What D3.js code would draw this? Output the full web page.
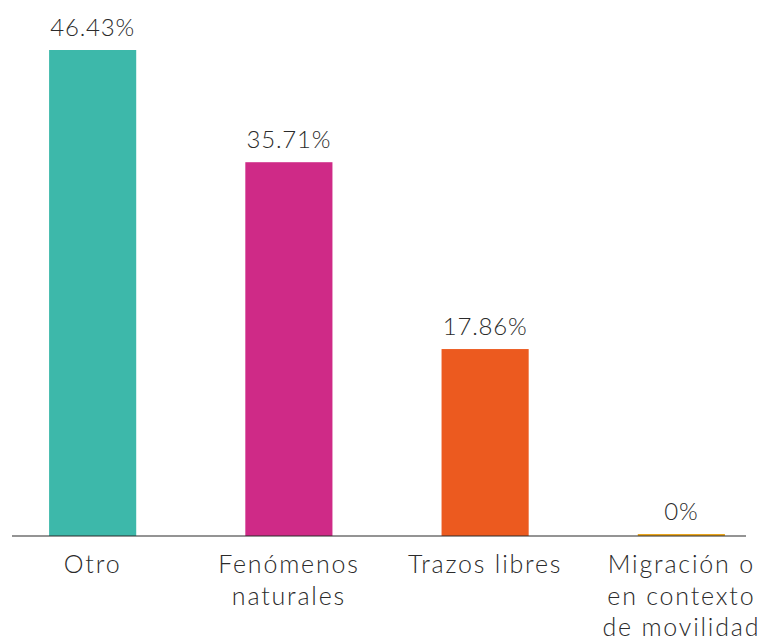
<!DOCTYPE html>
<html>
<head>
<meta charset="utf-8">
<script src="https://cdn.jsdelivr.net/npm/d3@7"></script>
<style>
  html, body { margin: 0; padding: 0; background: #ffffff; }
  svg text { font-family: Lato, "Open Sans", sans-serif; font-weight: 300; fill: #2b2b2b; }
</style>
</head>
<body>
<svg id="chart" width="763" height="640"></svg>
<script>
// Categories (multi-line labels) and their shares in percent
const categories = ["Otro", "Fenómenos naturales", "Trazos libres", "Migración o en contexto de movilidad"];
const categoryLines = [["Otro"], ["Fenómenos", "naturales"], ["Trazos libres"], ["Migración o", "en contexto", "de movilidad"]];
const values = [46.43, 35.71, 17.86, 0];
const valueLabels = ["46.43%", "35.71%", "17.86%", "0%"];
const colors = ["#3db8aa", "#cf2a87", "#ec5a1f", "#eaa51c"];

const svg = d3.select("#chart");
const baseY = 536;
const topY = 50;

const x = d3.scaleBand()
  .domain(categories)
  .range([12, 762])
  .paddingInner(0.556)
  .paddingOuter(0.189);

const y = d3.scaleLinear()
  .domain([0, 46.43])
  .range([baseY, topY]);

// Bars (a zero value still shows a thin sliver on the baseline)
svg.append("g").selectAll("rect")
  .data(values)
  .join("rect")
  .attr("x", (d, i) => x(categories[i]))
  .attr("width", x.bandwidth())
  .attr("y", d => Math.min(y(d), baseY - 2))
  .attr("height", d => Math.max(baseY - y(d), 2))
  .attr("fill", (d, i) => colors[i]);

// Baseline
svg.append("line")
  .attr("x1", 12).attr("x2", 746)
  .attr("y1", baseY).attr("y2", baseY)
  .attr("stroke", "#2b2b2b")
  .attr("stroke-width", 1.2);

// Value labels above the bars
svg.append("g").selectAll("text")
  .data(values)
  .join("text")
  .attr("x", (d, i) => x(categories[i]) + x.bandwidth() / 2)
  .attr("y", d => Math.min(y(d), baseY - 2) - 14)
  .attr("text-anchor", "middle")
  .style("font-size", "24px")
  .style("letter-spacing", "0.8px")
  .text((d, i) => valueLabels[i]);

// Category labels below the baseline
const cat = svg.append("g").selectAll("text")
  .data(categoryLines)
  .join("text")
  .attr("x", (d, i) => x(categories[i]) + x.bandwidth() / 2)
  .attr("y", 573)
  .attr("text-anchor", "middle")
  .style("font-size", "25px")
  .style("letter-spacing", "1.8px");

cat.selectAll("tspan")
  .data(d => d)
  .join("tspan")
  .attr("x", function () { return d3.select(this.parentNode).attr("x"); })
  .attr("dy", (d, j) => j === 0 ? 0 : 31.5)
  .text(d => d);
</script>
</body>
</html>
